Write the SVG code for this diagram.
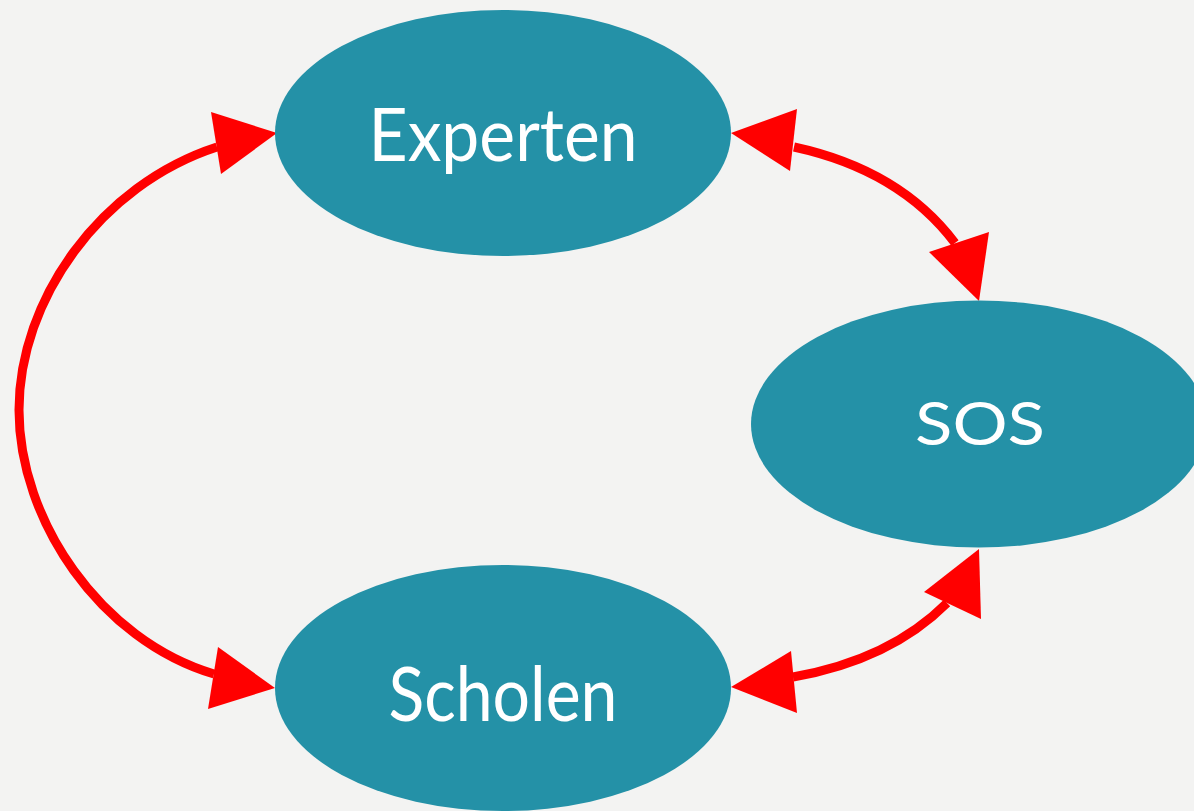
<svg xmlns="http://www.w3.org/2000/svg" width="1194" height="811" viewBox="0 0 1194 811">
<style>
.node{fill:#2491a7}
.lbl{fill:#ffffff;font-family:Lato,"Noto Sans","Liberation Sans",sans-serif;text-anchor:middle}
.edge{fill:none;stroke:#ff0000;stroke-width:9}
.head{fill:#ff0000}
</style>
<rect width="1194" height="811" fill="#f3f3f2"/>
<g id="connectors">
<path class="edge" d="M217,147 C100,185 19,300 19,410 C19,520 100,640 214,674"/>
<path class="edge" d="M794,147 Q900,170 955,243"/>
<path class="edge" d="M793,677 Q890,660 947,603"/>
<polygon class="head" points="277,133 211,112 221,174"/>
<polygon class="head" points="275,688 218,647 208,709"/>
<polygon class="head" points="731,133 797,109 790,171"/>
<polygon class="head" points="979,301 989,232 929,252"/>
<polygon class="head" points="979,549 924,592 981,619"/>
<polygon class="head" points="731,687 791,651 797,713"/>
</g>
<g id="experten">
<ellipse class="node" cx="503" cy="133" rx="228" ry="123"/>
<text class="lbl" x="503" y="161" font-size="74" textLength="269" lengthAdjust="spacingAndGlyphs">Experten</text>
</g>
<g id="sos">
<ellipse class="node" cx="979" cy="424" rx="228" ry="123.5"/>
<text class="lbl" x="980" y="445" font-size="60" textLength="130" lengthAdjust="spacingAndGlyphs">SOS</text>
</g>
<g id="scholen">
<ellipse class="node" cx="503" cy="688" rx="228" ry="123"/>
<text class="lbl" x="503" y="721" font-size="75" textLength="229" lengthAdjust="spacingAndGlyphs">Scholen</text>
</g>
</svg>
